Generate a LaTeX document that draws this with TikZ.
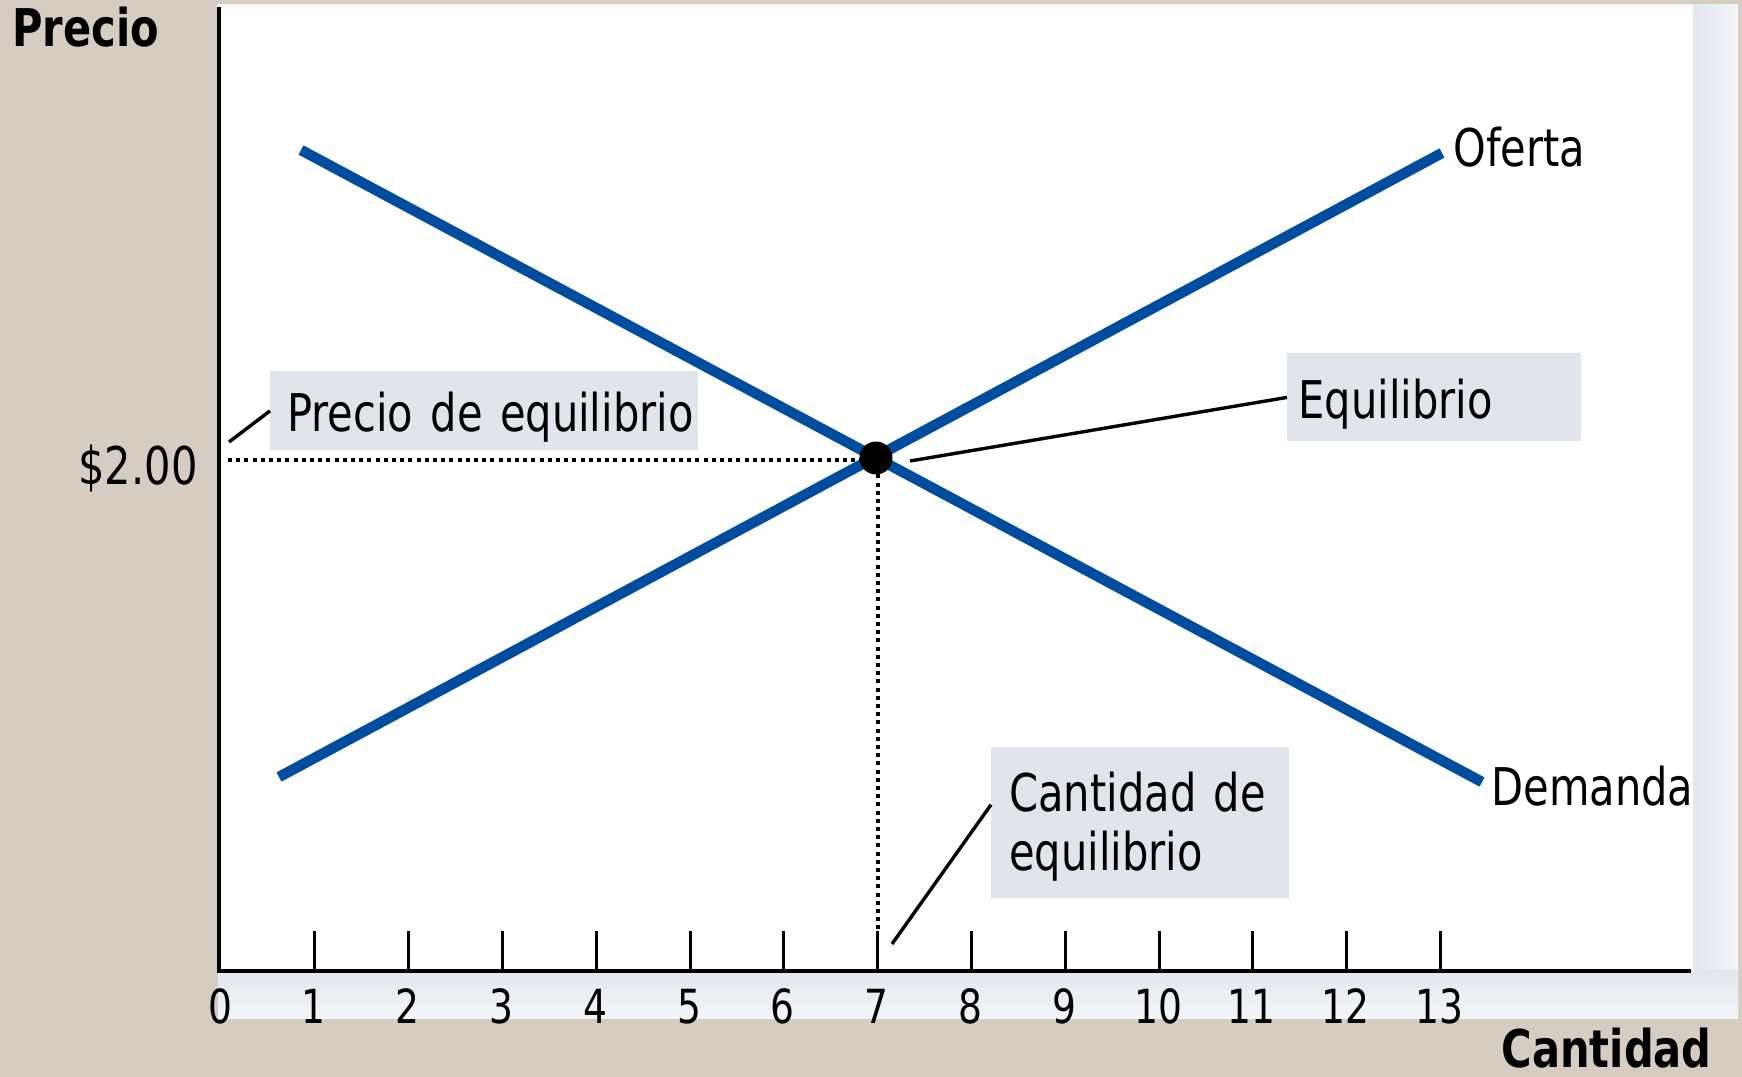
\documentclass[tikz,border=0pt]{standalone}
\usepackage{fontspec}
\setmainfont{DejaVu Sans}[FakeStretch=0.8]
\usetikzlibrary{calc}
\definecolor{beige}{RGB}{214,205,194}
\definecolor{supblue}{RGB}{0,77,159}
\definecolor{boxgray}{RGB}{225,228,234}
\definecolor{stripA}{RGB}{227,230,238}
\definecolor{stripB}{RGB}{243,245,248}
\begin{document}
\begin{tikzpicture}[x=0.5pt,y=-0.5pt,
  curve/.style={line width=5.25pt, color=supblue},
  axisline/.style={line width=2pt},
  tickline/.style={line width=1.5pt},
  guide/.style={line width=2pt, dash pattern=on 2pt off 2.1pt},
  leader/.style={line width=1.7pt},
  lbl/.style={inner sep=0pt, font=\fontsize{26pt}{29.5pt}\selectfont},
  boldlbl/.style={inner sep=0pt, font=\fontsize{26pt}{29.5pt}\selectfont\bfseries},
  ticklbl/.style={inner sep=0pt, font=\fontsize{23.5pt}{26pt}\selectfont, anchor=base},
  callout/.style={fill=boxgray, inner ysep=0pt, align=left, font=\fontsize{26pt}{29.5pt}\selectfont, anchor=north west}
]
\useasboundingbox (0,0) rectangle (1742,1077);
\fill[beige] (0,0) rectangle (1742,1077);
% light panel strips
\fill[stripB] (217,4) rectangle (1738,8);
\shade[left color=stripA, right color=stripB] (1693,4) rectangle (1738,1018);
\shade[top color=stripA, bottom color=stripB] (218,970) rectangle (1738,1018);
\fill[white] (219,7) rectangle (1693,970);
% axes
\draw[axisline] (219,7) -- (219,971) -- (1691,971);
\foreach \i in {1,...,13}
  \draw[tickline] ({221+93.8*\i},931) -- ({221+93.8*\i},971);
\foreach \i in {0,...,13}
  \node[ticklbl] (t\i) at ({220+93.8*\i},1023) {\i};
% curves
\coordinate (d1) at (301,150); \coordinate (d2) at (1482,782);
\coordinate (s1) at (279,777); \coordinate (s2) at (1442,153);
\draw[curve] (d1) -- (d2);
\draw[curve] (s1) -- (s2);
% guides
\coordinate (eqc) at (876,458);
\coordinate (py) at (228,460);
\coordinate (qx) at (878,930);
\draw[guide] (py) -- (py -| eqc);
\draw[guide] (qx |- eqc) -- (qx);
\node[circle, fill=black, inner sep=0pt, minimum size=16.5pt] (eq) at (eqc) {};
% callouts
\node[callout, inner xsep=8.5pt, text width=197pt, text height=30pt, text depth=9.5pt] (peq) at (270,371) {\mbox{Precio de equilibrio}};
\node[callout, inner xsep=5.5pt, text width=136pt, text height=32.5pt, text depth=11.5pt] (eql) at (1287,353) {Equilibrio};
\node[callout, inner xsep=9pt, text width=131pt, text height=32pt, text depth=43.5pt] (ceq) at (991,747) {\mbox{Cantidad de}\\equilibrio};
% leaders
\coordinate (lp) at (229,442);
\coordinate (le) at (910,461);
\coordinate (lc) at (892,944);
\draw[leader] (lp) -- (peq.west);
\draw[leader] (le) -- (eql.west);
\draw[leader] (lc) -- ($(ceq.north west)!0.38!(ceq.south west)$);
% labels
\node[lbl, anchor=base west] (of) at (1453,166) {Oferta};
\node[lbl, anchor=base west] (de) at (1491,805) {Demanda};
\node[lbl, anchor=base east] (p2) at (198,484) {\$2.00};
\node[boldlbl, anchor=base west] (yl) at (12,46) {Precio};
\node[boldlbl, anchor=base east] (xl) at (1712,1067) {Cantidad};
\end{tikzpicture}
\end{document}
